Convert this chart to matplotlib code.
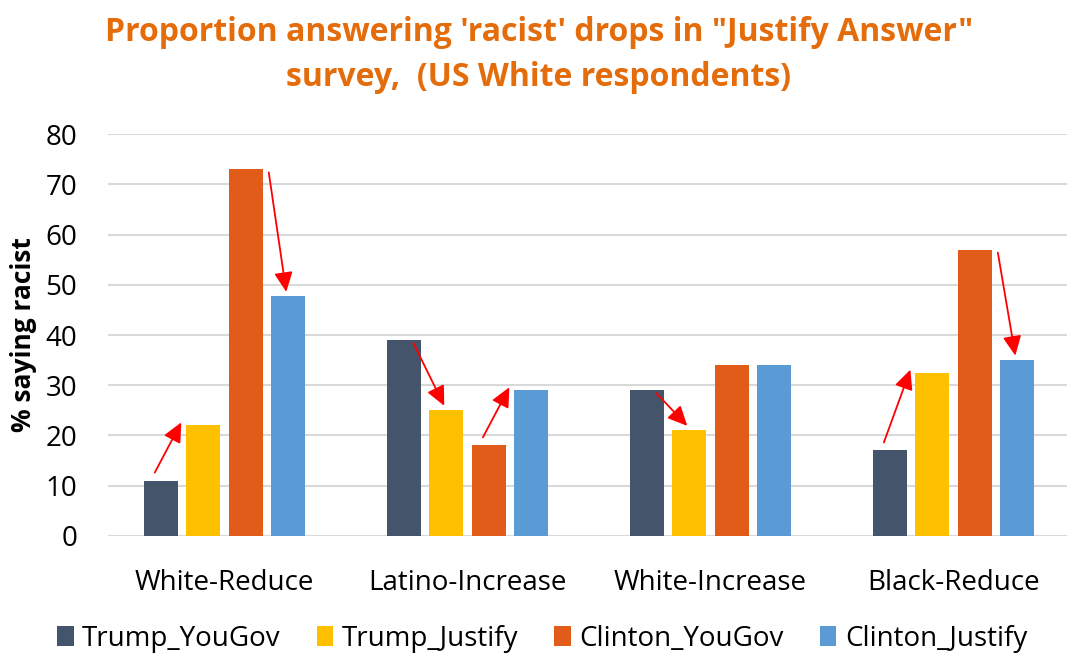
import numpy as np
import matplotlib.pyplot as plt

plt.rcParams['font.family'] = ['Open Sans', 'DejaVu Sans']

categories = ["White-Reduce", "Latino-Increase", "White-Increase", "Black-Reduce"]
series = ["Trump_YouGov", "Trump_Justify", "Clinton_YouGov", "Clinton_Justify"]
trump_yougov = [11, 39, 29, 17]
trump_justify = [22, 25, 21, 32.5]
clinton_yougov = [73, 18, 34, 57]
clinton_justify = [47.7, 29, 34, 35]
colors = ["#44546A", "#FFC000", "#E05C18", "#5B9BD5"]

# arrows: (category index, from series, to series)
arrows = [(0, 0, 1), (0, 2, 3), (1, 0, 1), (1, 2, 3), (2, 0, 1), (3, 0, 1), (3, 2, 3)]

values = [trump_yougov, trump_justify, clinton_yougov, clinton_justify]

fig = plt.figure(figsize=(10.67, 6.55), dpi=100)
ax = fig.add_axes([0.101, 0.182, 0.899, 0.613])

x = np.arange(len(categories))
pitch = 0.175
width = 0.14
for i, (name, vals) in enumerate(zip(series, values)):
    ax.bar(x + (i - 1.5) * pitch, vals, width, color=colors[i], label=name, zorder=3)

for cat, a, b in arrows:
    xa = cat + (a - 1.5) * pitch
    xb = cat + (b - 1.5) * pitch
    ya = values[a][cat]
    yb = values[b][cat]
    if yb > ya:
        # rising: start just above the left bar, end beside the right bar
        tail = (xa - 0.024, ya + 1.6)
        head = (xb - 0.09, yb + 0.6)
    else:
        dx = 0.095 if a == 2 else 0.04
        tail = (xa + dx, ya - 0.6)
        head = (xb - 0.008, yb + 0.9)
    ax.annotate("", xy=head, xytext=tail,
                arrowprops=dict(arrowstyle='-|>,head_length=0.7,head_width=0.33',
                                color='red', lw=1.3, mutation_scale=17,
                                shrinkA=0, shrinkB=0), zorder=5)

ax.set_xlim(-0.48, 3.467)
ax.set_ylim(0, 80)
ax.set_yticks(range(0, 81, 10))
ax.set_xticks(x)
ax.set_xticklabels(categories)
ax.tick_params(axis='both', length=0, labelsize=20, colors='black')
ax.tick_params(axis='x', pad=24)
ax.tick_params(axis='y', pad=22)
ax.grid(axis='y', color='#D9D9D9', lw=1.5, zorder=0)
for s in ax.spines.values():
    s.set_visible(False)
ax.set_ylabel("% saying racist", fontsize=19, fontweight='bold', labelpad=6)

fig.text(0.505, 0.975, "Proportion answering 'racist' drops in \"Justify Answer\"\nsurvey,  (US White respondents)",
         ha='center', va='top', fontsize=23, fontweight='bold', color='#E46C0A', linespacing=1.45)

fig.legend(loc='lower center', bbox_to_anchor=(0.508, -0.035), ncol=4, frameon=False,
           fontsize=20, handlelength=0.6, handleheight=0.7, handletextpad=0.3,
           columnspacing=1.3)

fig.savefig("out.png", dpi=100)
